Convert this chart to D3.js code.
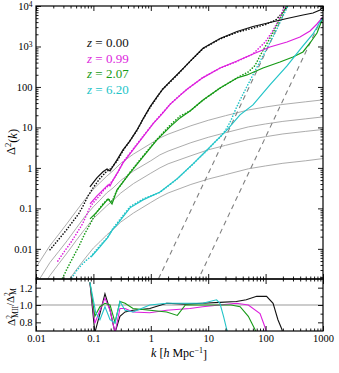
<!DOCTYPE html>
<head>
<meta charset="utf-8">
<script src="https://d3js.org/d3.v7.min.js"></script>
<style>
  body { margin: 0; background: #fff; }
  text { font-family: "Liberation Serif", "DejaVu Serif", serif; }
</style>
</head>
<body>
<div id="my_dataviz"></div>
<script>
// ---- values ----
var redshifts = ["0.00", "0.99", "2.07", "6.20"];
var zColors = ["#111111", "#dd1fdd", "#169a16", "#22c4c8"];

// linear theory (thin grey), one per redshift
var kLin = [0.01, 0.0175, 0.025, 0.035, 0.05, 0.07, 0.1, 0.13, 0.17, 0.22, 0.3, 0.5, 1, 1.44, 2, 5, 10, 20, 50, 100, 200, 500, 1000];
var lin0 = [0.0035, 0.012, 0.023, 0.043, 0.085, 0.16, 0.3, 0.43, 0.62, 0.85, 1.3, 2.2, 4.0, 5.5, 6.8, 11, 15, 19.5, 27, 32, 37, 43, 48];
var lin1 = [0.0013, 0.0046, 0.0087, 0.016, 0.032, 0.061, 0.11, 0.16, 0.24, 0.32, 0.49, 0.84, 1.5, 2.1, 2.6, 4.2, 5.7, 7.4, 10.3, 12.2, 14.1, 16.3, 18.2];
var lin2 = [0.00065, 0.0022, 0.0043, 0.008, 0.016, 0.03, 0.056, 0.08, 0.115, 0.157, 0.24, 0.41, 0.74, 1.0, 1.26, 2.0, 2.8, 3.6, 5.0, 5.9, 6.9, 8.0, 8.9];
var lin3 = [0.00012, 0.00042, 0.0008, 0.0015, 0.003, 0.0056, 0.0105, 0.015, 0.022, 0.03, 0.046, 0.077, 0.14, 0.19, 0.24, 0.39, 0.53, 0.68, 0.95, 1.12, 1.3, 1.5, 1.7];

// MII (solid)
var kMII0 = [0.087, 0.115, 0.147, 0.173, 0.195, 0.258, 0.328, 0.434, 0.575, 0.731, 0.968, 1.28, 1.63, 2.16, 2.86, 3.79, 4.82, 8.12, 16.1, 31.8, 60.3, 119, 236, 448, 670, 887, 1000];
var mii0  = [0.34, 0.57, 0.8, 0.94, 0.84, 1.58, 2.78, 4.64, 8.67, 16, 32.1, 56.6, 89, 135, 200, 300, 430, 900, 1580, 2350, 3120, 3910, 4910, 6000, 6700, 7950, 9700];
var kMII1 = [0.0873, 0.1155, 0.147, 0.18, 0.195, 0.22, 0.268, 0.328, 0.49, 0.731, 1.09, 1.63, 2.16, 3.23, 4.27, 8.12, 16.1, 31.8, 60.3, 119, 236, 397, 594, 786, 1000];
var mii1  = [0.129, 0.204, 0.286, 0.38, 0.36, 0.5, 0.796, 1.33, 2.78, 5.82, 12.2, 22.8, 37, 62, 88, 170, 294, 438, 653, 972, 1291, 1716, 2415, 3594, 5350];
var kMII2 = [0.0873, 0.1155, 0.147, 0.18, 0.211, 0.258, 0.434, 0.731, 1.28, 2.16, 3.23, 4.82, 8.12, 16.1, 31.8, 47.4, 90.1, 178, 300, 448, 594, 786, 961, 1000];
var mii2  = [0.055, 0.082, 0.122, 0.172, 0.129, 0.286, 0.753, 1.87, 4.91, 10.3, 17.2, 25.5, 47.7, 94.4, 167, 198, 294, 414, 551, 731, 1220, 2155, 4510, 5200];
var kMII3 = [0.0908, 0.13, 0.1757, 0.2196, 0.2476, 0.434, 0.731, 1.446, 2.86, 5.43, 9.53, 16.1, 21.3, 35.8, 60.3, 119, 236, 448, 670, 887, 1000];
var mii3  = [0.0063, 0.0112, 0.0187, 0.0312, 0.037, 0.103, 0.162, 0.255, 0.535, 1.26, 2.78, 5.82, 8.67, 20.4, 36, 112, 330, 1028, 2036, 4027, 5055];

// MS (dotted)
var kMS0 = [0.0175, 0.022, 0.028, 0.035, 0.045, 0.055, 0.065, 0.08, 0.1, 0.13, 0.17, 0.2, 0.26, 0.33, 0.43, 0.58, 0.73, 0.97, 1.3, 1.6, 2.2, 2.9, 3.8, 4.8, 8.1, 16, 32, 60, 100, 150, 200, 240, 280];
var ms0  = [0.0095, 0.014, 0.021, 0.031, 0.05, 0.072, 0.11, 0.2, 0.33, 0.55, 0.82, 0.95, 1.5, 2.7, 4.6, 8.6, 16, 31, 57, 88, 135, 200, 300, 425, 880, 1530, 2250, 2850, 3500, 4500, 7000, 10000, 13000];
var kMS1 = [0.024, 0.03, 0.04, 0.05, 0.065, 0.085, 0.1, 0.13, 0.15, 0.18, 0.22, 0.27, 0.33, 0.49, 0.73, 1.1, 1.6, 2.2, 3.2, 4.3, 8.1, 16, 32, 60, 98, 130, 170, 215, 240];
var ms1  = [0.005, 0.008, 0.014, 0.023, 0.042, 0.1, 0.14, 0.21, 0.28, 0.36, 0.5, 0.8, 1.4, 2.9, 6, 12.5, 23, 38, 62, 88, 172, 290, 430, 650, 1280, 2300, 4500, 10000, 13000];
var kMS2 = [0.029, 0.035, 0.045, 0.055, 0.07, 0.09, 0.11, 0.147, 0.18, 0.211, 0.258, 0.434, 0.731, 1.28, 2.16, 3.23, 4.82, 8.12, 16.1, 31.8, 36, 50, 65, 90, 130, 180, 230, 260];
var ms2  = [0.0019, 0.0033, 0.0065, 0.011, 0.023, 0.044, 0.075, 0.13, 0.17, 0.15, 0.28, 0.78, 1.95, 5.1, 11.3, 19, 25.5, 47, 94, 167, 185, 235, 335, 800, 2000, 5000, 10000, 14000];
var kMS3 = [0.042, 0.05, 0.06, 0.075, 0.0908, 0.13, 0.1757, 0.2196, 0.2476, 0.434, 0.731, 1.446, 2.86, 5.43, 9.53, 14, 16.1, 20, 25, 30, 36, 50, 70, 100, 150, 200, 245, 270];
var ms3  = [0.0019, 0.0028, 0.0038, 0.0052, 0.0065, 0.012, 0.019, 0.032, 0.04, 0.11, 0.17, 0.25, 0.53, 1.24, 2.7, 4.8, 5.7, 8.5, 15, 28, 48, 120, 300, 780, 2350, 5600, 10000, 13000];

// shot noise levels (grey dashed)
var kShot = [1, 1000];
var shotMS = [0.00072, 720000];
var shotMII = [0.0000058, 5800];

// ratio MII / MS
var kRat0 = [0.087, 0.106, 0.13, 0.159, 0.195, 0.238, 0.29, 0.356, 0.49, 0.96, 1.89, 4, 8, 16, 31, 46, 70, 104, 135, 164, 192, 230];
var rat0  = [1.26, 0.68, 0.9, 1.13, 0.94, 0.68, 0.87, 0.92, 0.94, 0.96, 1.02, 1.01, 1.02, 1.03, 1.04, 1.06, 1.1, 1.1, 1.02, 0.83, 0.72, 0.5];
var kRat1 = [0.087, 0.106, 0.13, 0.159, 0.195, 0.238, 0.29, 0.356, 0.49, 0.96, 1.89, 4.8, 8, 31, 50, 80, 98, 110];
var rat1  = [1.26, 0.79, 0.94, 1.08, 0.94, 0.68, 0.96, 0.96, 0.92, 0.91, 0.94, 0.96, 0.98, 1.02, 1.0, 0.9, 0.74, 0.6];
var kRat2 = [0.087, 0.106, 0.13, 0.159, 0.195, 0.238, 0.29, 0.356, 0.49, 0.96, 1.89, 2.9, 4, 8, 25, 36, 50, 65, 75];
var rat2  = [1.26, 0.87, 0.98, 1.02, 1.0, 0.8, 1.04, 1.02, 0.96, 0.94, 0.92, 0.88, 1.0, 1.0, 1.0, 0.98, 0.87, 0.72, 0.6];
var kRat3 = [0.087, 0.11, 0.13, 0.159, 0.195, 0.238, 0.29, 0.356, 0.49, 0.96, 1.89, 4, 8, 14, 16, 18.5, 21, 24];
var rat3  = [1.26, 0.91, 0.83, 0.98, 0.83, 0.79, 1.04, 0.94, 0.92, 1.0, 1.02, 1.02, 1.02, 1.06, 1.02, 0.87, 0.72, 0.6];

var linSets = [lin0, lin1, lin2, lin3];
var miiSets = [[kMII0, mii0], [kMII1, mii1], [kMII2, mii2], [kMII3, mii3]];
var msSets  = [[kMS0, ms0], [kMS1, ms1], [kMS2, ms2], [kMS3, ms3]];
var ratSets = [[kRat0, rat0], [kRat1, rat1], [kRat2, rat2], [kRat3, rat3]];

// ---- layout ----
var W = 339, H = 373;
var pL = 36, pR = 323, pT = 6, pM = 279, pB = 331;

var svg = d3.select("#my_dataviz")
  .append("svg")
    .attr("width", W)
    .attr("height", H);

var x = d3.scaleLog().domain([0.01, 1000]).range([pL, pR]);
var y = d3.scaleLog().domain([0.0018, 1e4]).range([pM, pT]);
var yr = d3.scaleLinear().domain([0.7, 1.3]).range([pB, pM]);

svg.append("clipPath").attr("id", "clipMain")
  .append("rect").attr("x", pL).attr("y", pT).attr("width", pR - pL).attr("height", pM - pT);
svg.append("clipPath").attr("id", "clipRat")
  .append("rect").attr("x", pL).attr("y", pM).attr("width", pR - pL).attr("height", pB - pM);

function pairs(ks, vs) {
  return ks.map(function(k, i) { return [k, vs[i]]; });
}
var line = d3.line().x(function(d) { return x(d[0]); }).y(function(d) { return y(d[1]); });
var lineR = d3.line().x(function(d) { return x(d[0]); }).y(function(d) { return yr(d[1]); });

var gMain = svg.append("g").attr("clip-path", "url(#clipMain)");

// linear theory
linSets.forEach(function(v) {
  gMain.append("path")
    .datum(pairs(kLin, v))
    .attr("fill", "none")
    .attr("stroke", "#a3a3a3")
    .attr("stroke-width", 0.9)
    .attr("d", line);
});

// shot noise
[shotMS, shotMII].forEach(function(v) {
  gMain.append("path")
    .datum(pairs(kShot, v))
    .attr("fill", "none")
    .attr("stroke", "#808080")
    .attr("stroke-width", 1.1)
    .attr("stroke-dasharray", "5,4")
    .attr("d", line);
});

// MS dotted
msSets.forEach(function(s, i) {
  gMain.append("path")
    .datum(pairs(s[0], s[1]))
    .attr("fill", "none")
    .attr("stroke", zColors[i])
    .attr("stroke-width", 1.6)
    .attr("stroke-linecap", "round")
    .attr("stroke-dasharray", "0.1,2.8")
    .attr("d", line);
});

// MII solid
miiSets.forEach(function(s, i) {
  gMain.append("path")
    .datum(pairs(s[0], s[1]))
    .attr("fill", "none")
    .attr("stroke", zColors[i])
    .attr("stroke-width", 1.2)
    .attr("d", line);
});

// legend
redshifts.forEach(function(z, i) {
  var t = svg.append("text")
    .attr("x", 87)
    .attr("y", 47 + i * 15.7)
    .attr("font-size", 13)
    .attr("fill", zColors[i]);
  t.append("tspan").attr("font-style", "italic").text("z");
  t.append("tspan").text(" = " + z);
});

// ratio panel
var gRat = svg.append("g").attr("clip-path", "url(#clipRat)");
gRat.append("line")
  .attr("x1", pL).attr("x2", pR)
  .attr("y1", yr(1)).attr("y2", yr(1))
  .attr("stroke", "#999").attr("stroke-width", 1);
ratSets.forEach(function(s, i) {
  gRat.append("path")
    .datum(pairs(s[0], s[1]))
    .attr("fill", "none")
    .attr("stroke", zColors[i])
    .attr("stroke-width", 1.1)
    .attr("d", lineR);
});

// ---- axes ----
var xMajor = [0.01, 0.1, 1, 10, 100, 1000];
var xMinor = [];
for (var e = -2; e < 3; e++) for (var m = 2; m < 10; m++) xMinor.push(m * Math.pow(10, e));
var yMajor = [0.01, 0.1, 1, 10, 100, 1000, 10000];
var yMinor = [];
for (var e = -3; e < 4; e++) for (var m = 2; m < 10; m++) {
  var v = m * Math.pow(10, e);
  if (v >= 0.0018 && v <= 1e4) yMinor.push(v);
}

function axis(gen, tx, ty, vals, size, fmt) {
  var g = svg.append("g")
    .attr("transform", "translate(" + tx + "," + ty + ")")
    .call(gen.tickValues(vals).tickSize(size).tickPadding(3.5).tickFormat(fmt || ""));
  g.select(".domain").remove();
  g.selectAll(".tick line").attr("stroke", "#000").attr("stroke-width", 0.9);
  g.attr("font-family", "Liberation Serif, DejaVu Serif, serif").attr("font-size", 10.5);
  return g;
}

var fmtX = function(d) { return d >= 1 ? d3.format("d")(d) : String(+d.toPrecision(1)); };

// main panel
var gyl = axis(d3.axisLeft(y), pL, 0, yMajor, -5, function(d) { return d >= 1000 ? "" : (d >= 1 ? d3.format("d")(d) : String(+d.toPrecision(1))); });
gyl.selectAll(".tick text").each(function(d) {
  if (d >= 1000) {
    var t = d3.select(this);
    t.append("tspan").text("10");
    t.append("tspan").attr("dy", "-0.45em").attr("font-size", 7.5).text(Math.round(Math.log10(d)));
  }
});
axis(d3.axisLeft(y), pL, 0, yMinor, -2.5);
axis(d3.axisRight(y), pR, 0, yMajor, -5);
axis(d3.axisRight(y), pR, 0, yMinor, -2.5);
axis(d3.axisTop(x), 0, pT, xMajor, -5);
axis(d3.axisTop(x), 0, pT, xMinor, -2.5);
axis(d3.axisBottom(x), 0, pM, xMajor, -5);
axis(d3.axisBottom(x), 0, pM, xMinor, -2.5);

// ratio panel
axis(d3.axisTop(x), 0, pM, xMajor, -5);
axis(d3.axisTop(x), 0, pM, xMinor, -2.5);
axis(d3.axisBottom(x), 0, pB, xMajor, -5, fmtX);
axis(d3.axisBottom(x), 0, pB, xMinor, -2.5);
axis(d3.axisLeft(yr), pL, 0, [0.8, 1.0, 1.2], -5, d3.format(".1f"));
axis(d3.axisLeft(yr), pL, 0, [0.9, 1.1], -2.5);
axis(d3.axisRight(yr), pR, 0, [0.8, 1.0, 1.2], -5);
axis(d3.axisRight(yr), pR, 0, [0.9, 1.1], -2.5);

// frames
svg.append("rect")
  .attr("x", pL).attr("y", pT).attr("width", pR - pL).attr("height", pM - pT)
  .attr("fill", "none").attr("stroke", "#000").attr("stroke-width", 1.2);
svg.append("rect")
  .attr("x", pL).attr("y", pM).attr("width", pR - pL).attr("height", pB - pM)
  .attr("fill", "none").attr("stroke", "#000").attr("stroke-width", 1.2);

// axis titles
var yl = svg.append("text")
  .attr("transform", "translate(15,142) rotate(-90)")
  .attr("text-anchor", "middle")
  .attr("font-size", 12.5);
yl.append("tspan").text("Δ");
yl.append("tspan").attr("dy", "-0.45em").attr("font-size", 8.5).text("2");
yl.append("tspan").attr("dy", "0.45em").text("(");
yl.append("tspan").attr("font-style", "italic").text("k");
yl.append("tspan").text(")");

var rl = svg.append("text")
  .attr("transform", "translate(15,307) rotate(-90)")
  .attr("text-anchor", "middle")
  .attr("font-size", 11);
rl.append("tspan").text("Δ");
rl.append("tspan").attr("dy", "-0.45em").attr("font-size", 7.5).text("2");
rl.append("tspan").attr("dx", "-0.35em").attr("dy", "0.8em").attr("font-size", 7.5).text("MII");
rl.append("tspan").attr("dy", "-0.35em").text("/Δ");
rl.append("tspan").attr("dy", "-0.45em").attr("font-size", 7.5).text("2");
rl.append("tspan").attr("dx", "-0.35em").attr("dy", "0.8em").attr("font-size", 7.5).text("M");

var xl = svg.append("text")
  .attr("x", 179)
  .attr("y", 357)
  .attr("text-anchor", "middle")
  .attr("font-size", 12);
xl.append("tspan").attr("font-style", "italic").text("k");
xl.append("tspan").text(" [");
xl.append("tspan").attr("font-style", "italic").text("h");
xl.append("tspan").text(" Mpc");
xl.append("tspan").attr("dy", "-0.45em").attr("font-size", 8).text("−1");
xl.append("tspan").attr("dy", "0.45em").text("]");
</script>
</body>
